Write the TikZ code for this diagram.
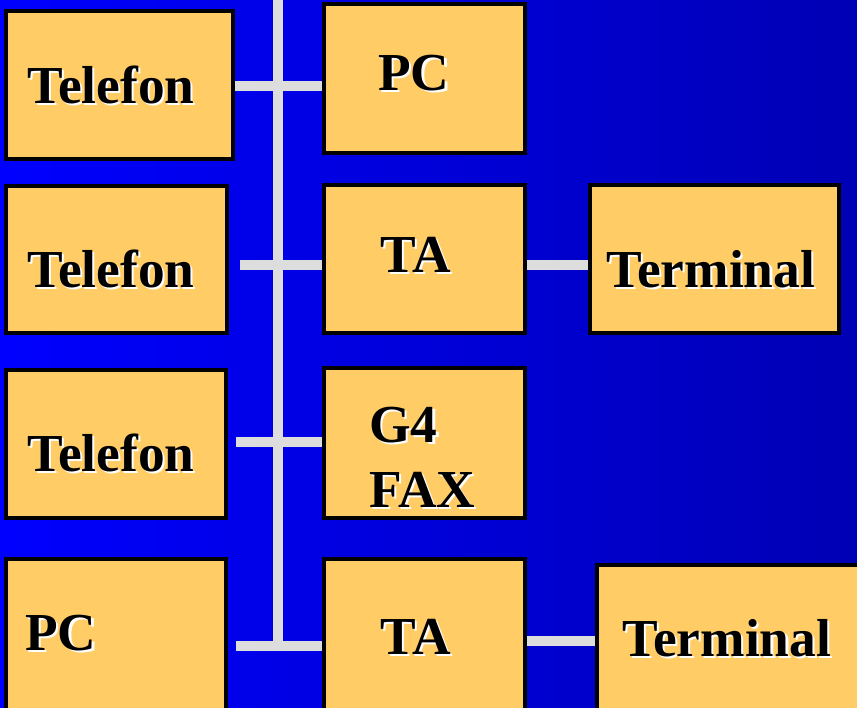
\documentclass[tikz,border=0pt]{standalone}
\usepackage{fontspec}
\setmainfont{Liberation Serif}
\definecolor{boxfill}{HTML}{FFCC66}
\definecolor{busgray}{HTML}{DDDDDD}
\definecolor{bgleft}{HTML}{0000FF}
\definecolor{bgright}{HTML}{0000B4}
\newcommand{\shtext}[1]{\rlap{\kern1.2pt\raisebox{-1.2pt}{\color{white}#1}}#1}
\tikzstyle{unit} = [rectangle, 
draw=black, 
line width=1.9pt, 
fill=boxfill, 
inner sep=0pt]
\tikzstyle{lbl} = [anchor=base west, 
inner sep=0pt, 
font=\fontsize{30.4}{36}\selectfont\bfseries]
\tikzstyle{bus} = [line width=0.2cm, draw=busgray]

\begin{document}
\begin{tikzpicture}[x=0.02cm, y=-0.02cm]

\useasboundingbox (0,0) rectangle (857,707);
\clip (0,0) rectangle (857,707);
\shade[left color=bgleft, right color=bgright] (0,0) rectangle (857,707);

% left column
\node (l1) [unit, minimum width=4.54cm, minimum height=2.96cm] at (119.5,85) {};
\node (l2) [unit, minimum width=4.42cm, minimum height=2.94cm] at (116.5,259.5) {};
\node (l3) [unit, minimum width=4.40cm, minimum height=2.96cm] at (116,444) {};
\node (l4) [unit, minimum width=4.40cm, minimum height=3.22cm] at (116,639.5) {};

% middle column
\node (m1) [unit, minimum width=4.02cm, minimum height=2.98cm] at (424.5,78.5) {};
\node (m2) [unit, minimum width=4.02cm, minimum height=2.96cm] at (424.5,259) {};
\node (m3) [unit, minimum width=4.02cm, minimum height=3.00cm] at (424.5,443) {};
\node (m4) [unit, minimum width=4.02cm, minimum height=3.22cm] at (424.5,639.5) {};

% right column
\node (r1) [unit, minimum width=4.98cm, minimum height=2.96cm] at (714.5,259) {};
\node (r2) [unit, minimum width=5.46cm, minimum height=3.10cm] at (733.5,642.5) {};

% bus
\coordinate (top) at (278,0);
\coordinate (bot) at (278,646);
\coordinate (h1) at (235,86);
\coordinate (h2) at (240,265);
\coordinate (h3) at (236,442);
\coordinate (h4) at (236,646);
\coordinate (k4) at (527,641);
\draw[bus] (top) -- (bot);
\draw[bus] (h1) -- (h1 -| m1.west);
\draw[bus] (h2) -- (h2 -| m2.west);
\draw[bus] (h3) -- (h3 -| m3.west);
\draw[bus] (h4) -- (h4 -| m4.west);
\draw[bus] (h2 -| m2.east) -- (h2 -| r1.west);
\draw[bus] (k4 -| m4.east) -- (k4 -| r2.west);

% labels
\node (l1t) [lbl] at (27,103) {\shtext{Telefon}};
\node (l2t) [lbl] at (27,287) {\shtext{Telefon}};
\node (l3t) [lbl] at (27,471) {\shtext{Telefon}};
\node (l4t) [lbl] at (25,650) {\shtext{PC}};
\node (m1t) [lbl] at (378,90) {\shtext{PC}};
\node (m2t) [lbl] at (380,272) {\shtext{TA}};
\node (m3a) [lbl] at (369,442) {\shtext{G4}};
\node (m3b) [lbl] at (369,507) {\shtext{FAX}};
\node (m4t) [lbl] at (380,654) {\shtext{TA}};
\node (r1t) [lbl] at (606,287) {\shtext{Terminal}};
\node (r2t) [lbl] at (622,656) {\shtext{Terminal}};

\end{tikzpicture}
\end{document}
